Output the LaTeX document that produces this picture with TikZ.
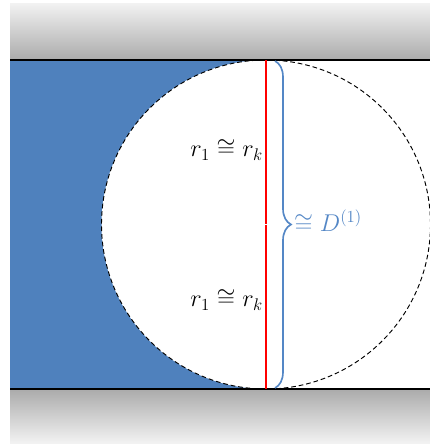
\documentclass[tikz,border=0pt]{standalone}
\usepackage{amsmath}
\usepackage{amssymb}
\usetikzlibrary{decorations.pathreplacing}
\definecolor{wallblue}{HTML}{4F81BD}
\definecolor{bracecol}{HTML}{5487C6}

\begin{document}
\begin{tikzpicture}[x=0.03cm,y=-0.03cm,font=\fontsize{20}{24}\selectfont]
\useasboundingbox (0,0) rectangle (430,444);
% grey walls
\shade[top color=gray!10, bottom color=gray!66] (10,3) rectangle (430,60);
\shade[top color=gray!66, bottom color=gray!10] (10,389) rectangle (430,443);

% fluid and bubble
\coordinate (c) at (266,224.5);
\fill[wallblue] (10,60) rectangle (266,389);
\fill[white] (c) circle (164.5);
\draw[line width=0.8pt,dash pattern=on 4pt off 2.5pt] (c) circle (164.5);

\draw[line width=1.6pt] (10,60) -- (430,60);
\draw[line width=1.6pt] (10,389) -- (430,389);

% diameter
\coordinate (top) at (266,60);
\coordinate (bot) at (266,389);
\draw[red,line width=1.3pt] (top) -- ([yshift=0.5]c);
\draw[red,line width=1.3pt] ([yshift=-0.5]c) -- (bot);

\draw[bracecol,line width=1.4pt,decorate,decoration={brace,amplitude=0.48cm}]
  (275,61) -- (275,388);

\node[anchor=east,inner sep=0pt] (upperlbl) at (263,150) {$r_1 \cong r_k$};
\node[anchor=east,inner sep=0pt] (lowerlbl) at (263,300) {$r_1 \cong r_k$};
\node[anchor=west,inner sep=0pt,text=bracecol] (dlbl) at (294,221) {$\cong D^{(1)}$};
\end{tikzpicture}
\end{document}
